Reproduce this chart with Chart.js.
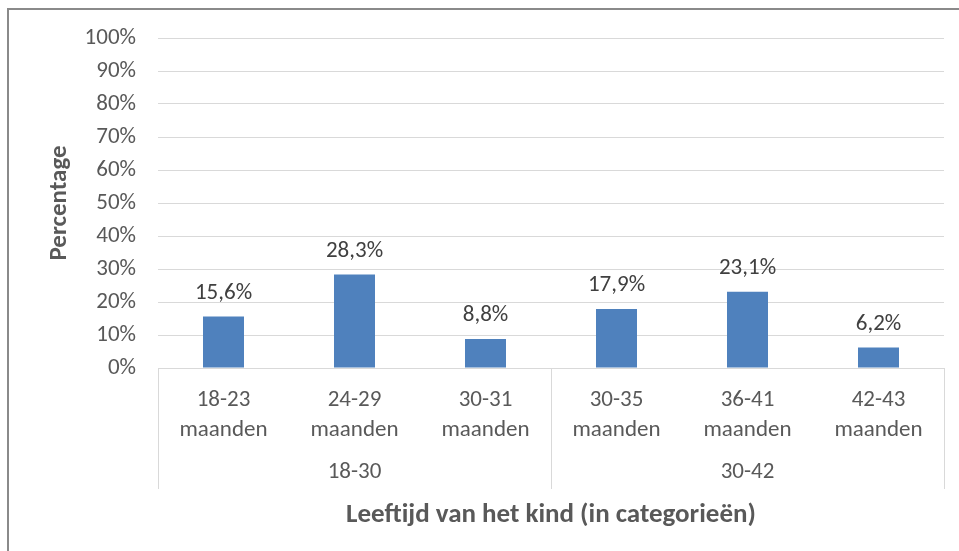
<!DOCTYPE html>
<html><head><meta charset="utf-8">
<script src="https://cdn.jsdelivr.net/npm/chart.js@4.4.1/dist/chart.umd.min.js"></script>
<style>html,body{margin:0;padding:0;background:#fff;}</style>
</head><body>
<canvas id="c" width="959" height="551" style="display:block;width:959px;height:551px"></canvas>
<script>
const categories = [["18-23","maanden"],["24-29","maanden"],["30-31","maanden"],["30-35","maanden"],["36-41","maanden"],["42-43","maanden"]];
const groups = ["18-30","30-42"];
const values = [15.6, 28.3, 8.8, 17.9, 23.1, 6.2];
const yTitle = "Percentage";
const xTitle = "Leeftijd van het kind (in categorieën)";

const FONT = "Carlito, Calibri, Lato, sans-serif";
const TXT = "#595959";

const frame = {
  id: "frame",
  beforeDraw(chart) {
    const ctx = chart.ctx;
    ctx.save();
    ctx.fillStyle = "#fff";
    ctx.fillRect(0, 0, chart.width, chart.height);
    ctx.fillStyle = "#8a8a8a";
    ctx.fillRect(7, 8, 2, chart.height - 8);
    ctx.fillRect(7, 8, chart.width - 7, 2);
    ctx.restore();
  },
  afterDraw(chart) {
    const ctx = chart.ctx;
    const x = chart.scales.x, x2 = chart.scales.x2;
    ctx.save();
    ctx.strokeStyle = "#d9d9d9";
    ctx.lineWidth = 1;
    [-0.5, 0.5, 1.5].forEach(v => {
      const px = Math.round(x2.getPixelForValue(v)) + 0.5;
      ctx.beginPath();
      ctx.moveTo(px, x.top);
      ctx.lineTo(px, x2.top + 34);
      ctx.stroke();
    });
    ctx.restore();
  },
  afterDatasetsDraw(chart) {
    const ctx = chart.ctx;
    const meta = chart.getDatasetMeta(0);
    ctx.save();
    ctx.font = "23px " + FONT;
    ctx.fillStyle = "#404040";
    ctx.textAlign = "center";
    ctx.textBaseline = "alphabetic";
    meta.data.forEach((bar, i) => {
      ctx.fillText(values[i].toFixed(1).replace(".", ",") + "%", bar.x, bar.y - 18);
    });
    ctx.restore();
  }
};

new Chart(document.getElementById("c"), {
  type: "bar",
  data: {
    labels: categories,
    datasets: [{
      data: values,
      backgroundColor: "#4f81bd",
      borderWidth: 0,
      categoryPercentage: 1,
      barPercentage: 0.313,
      xAxisID: "x",
      yAxisID: "y"
    }]
  },
  options: {
    responsive: false,
    devicePixelRatio: 1,
    animation: false,
    layout: { padding: { left: 0, top: 38, right: 15, bottom: 0 } },
    plugins: { legend: { display: false }, tooltip: { enabled: false } },
    scales: {
      y: {
        min: 0, max: 100,
        ticks: { stepSize: 10, padding: 22, color: TXT, font: { family: FONT, size: 23 },
                 callback: v => v + "%" },
        grid: { color: "#d9d9d9", drawTicks: false, lineWidth: 1 },
        border: { display: false },
        title: { display: true, text: yTitle, color: TXT, padding: { top: 45 },
                 font: { family: FONT, size: 25, weight: "bold" } },
        afterFit: s => { s.width = 158; }
      },
      x: {
        position: "bottom",
        weight: 0,
        offset: true,
        ticks: { padding: 9, color: TXT, font: { family: FONT, size: 23, lineHeight: 1.3 }, maxRotation: 0, autoSkip: false },
        grid: { display: false },
        border: { display: true, color: "#d9d9d9", width: 1 },
        afterFit: s => { s.height = 87; }
      },
      x2: {
        type: "category",
        position: "bottom",
        weight: 1,
        labels: groups,
        offset: true,
        ticks: { padding: -5, color: TXT, font: { family: FONT, size: 23 }, maxRotation: 0, autoSkip: false },
        grid: { display: false },
        border: { display: false },
        title: { display: true, text: xTitle, color: TXT, padding: { bottom: 20 },
                 font: { family: FONT, size: 27, weight: "bold" } },
        afterFit: s => { s.height = 96; }
      }
    }
  },
  plugins: [frame]
});
</script>
</body></html>
